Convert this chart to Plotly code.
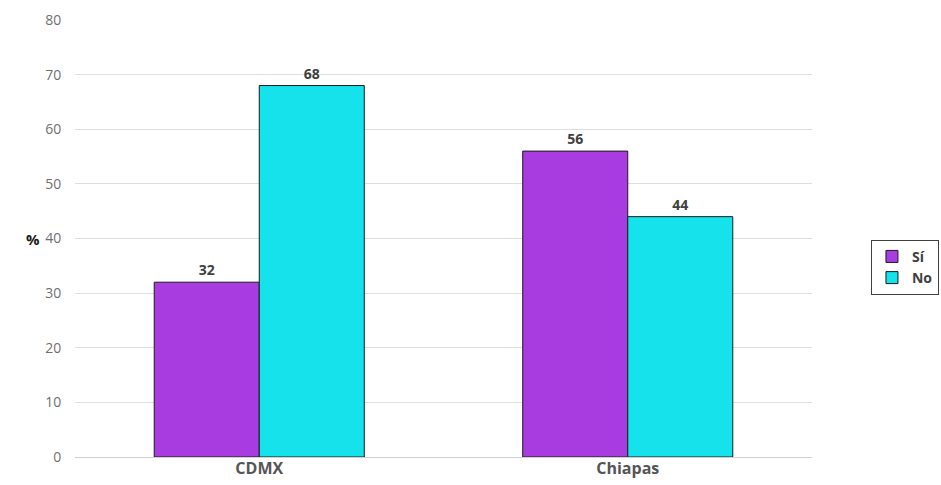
import plotly.graph_objects as go

categories = ["CDMX", "Chiapas"]
si_values = [32, 56]
no_values = [68, 44]
series_names = ["Sí", "No"]
y_ticks = [0, 10, 20, 30, 40, 50, 60, 70, 80]

purple = "#A93CE0"
cyan = "#16E2EC"

fig = go.Figure()
for name, vals, col in [(series_names[0], si_values, purple), (series_names[1], no_values, cyan)]:
    fig.add_trace(go.Bar(
        x=categories, y=vals, name=name,
        marker=dict(color=col, line=dict(color="#1a1a1a", width=1)),
        text=[str(v) for v in vals], textposition="outside",
        textfont=dict(family="Open Sans", size=14, color="#404040", weight="bold"),
        cliponaxis=False,
    ))

fig.update_layout(
    width=941, height=485,
    margin=dict(l=75, r=129, t=20, b=28, autoexpand=False),
    plot_bgcolor="white", paper_bgcolor="white",
    barmode="group", bargap=0.43, bargroupgap=0,
    font=dict(family="Open Sans", color="#595959"),
    xaxis=dict(
        tickfont=dict(family="Open Sans", size=16, color="#555555", weight="bold"),
        showgrid=False, showline=False, ticks="",
    ),
    yaxis=dict(
        range=[0, 80], tickvals=y_ticks,
        tickfont=dict(family="Open Sans", size=14, color="#707070"),
        gridcolor="#dedede", gridwidth=1,
        zeroline=True, zerolinecolor="#cfcfcf", zerolinewidth=1,
        ticks="outside", ticklen=10, tickcolor="white",
    ),
    legend=dict(
        x=1.08, y=0.497, xanchor="left", yanchor="top",
        bordercolor="#404040", borderwidth=1,
        font=dict(family="Open Sans", size=14, color="#404040", weight="bold"),
        itemwidth=30, tracegroupgap=0,
    ),
    showlegend=True,
    annotations=[dict(
        text="<b>%</b>", x=-0.057, y=0.5, xref="paper", yref="paper",
        showarrow=False, font=dict(family="Open Sans", size=15, color="#1a1a1a"),
        xanchor="center", yanchor="middle",
    )],
)

fig.write_html("out.html")
